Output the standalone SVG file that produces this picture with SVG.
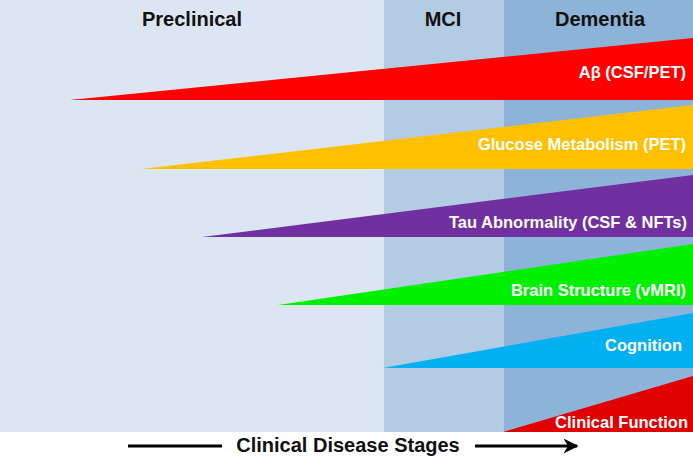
<svg xmlns="http://www.w3.org/2000/svg" width="693" height="466" viewBox="0 0 693 466">
<style>
.hdr{font-family:"Liberation Sans",Arial,sans-serif;font-weight:bold;font-size:20px;fill:#111;text-anchor:middle}
.lbl{font-family:"Liberation Sans",Arial,sans-serif;font-weight:bold;font-size:16.5px;fill:#fff;text-anchor:end}
.ax{font-family:"Liberation Sans",Arial,sans-serif;font-weight:bold;font-size:20px;fill:#111;text-anchor:middle}
</style>
<defs>
<marker id="ah" viewBox="0 0 10 10" refX="9" refY="5" markerWidth="6" markerHeight="5" orient="auto" markerUnits="strokeWidth">
<path d="M0,0 L10,5 L0,10 L3,5 Z" fill="#000"/>
</marker>
</defs>
<rect x="0" y="0" width="693" height="466" fill="#fff"/>
<g id="preclinical"><rect x="0" y="0" width="384" height="432" fill="#dbe6f2"/><text class="hdr" x="192" y="26">Preclinical</text></g>
<g id="mci"><rect x="384" y="0" width="120" height="432" fill="#b3cce4"/><text class="hdr" x="443" y="26">MCI</text></g>
<g id="dementia"><rect x="504" y="0" width="189" height="432" fill="#8db3d9"/><text class="hdr" x="600" y="26">Dementia</text></g>
<g id="abeta"><polygon points="70,100 693,38 693,100" fill="#ff0000"/><text class="lbl" x="686" y="78">Aβ (CSF/PET)</text></g>
<g id="glucose"><polygon points="141,169 693,105 693,169" fill="#ffc000"/><text class="lbl" x="686" y="150">Glucose Metabolism (PET)</text></g>
<g id="tau"><polygon points="202,237 693,175 693,237" fill="#7030a0"/><text class="lbl" x="687" y="228">Tau Abnormality (CSF &amp; NFTs)</text></g>
<g id="brain"><polygon points="278,305 693,244 693,305" fill="#00f000"/><text class="lbl" x="686" y="296">Brain Structure (vMRI)</text></g>
<g id="cognition"><polygon points="383,368 693,313 693,368" fill="#00b0f0"/><text class="lbl" x="682" y="351">Cognition</text></g>
<g id="clinical"><polygon points="503,432 693,376 693,432" fill="#e00000"/><text class="lbl" x="688" y="428">Clinical Function</text></g>
<g id="axis-label"><text class="ax" x="348" y="452">Clinical Disease Stages</text></g>
<g id="connectors">
<line x1="128" y1="446" x2="222" y2="446" stroke="#000" stroke-width="3"/>
<line x1="475" y1="446" x2="577" y2="446" stroke="#000" stroke-width="3" marker-end="url(#ah)"/>
</g>
</svg>
